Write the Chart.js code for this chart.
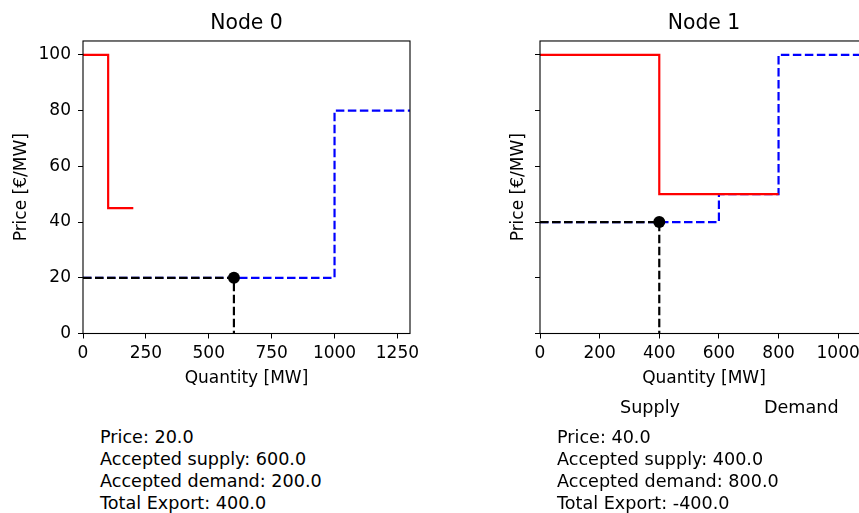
<!DOCTYPE html>
<html>
<head>
<meta charset="utf-8">
<script src="https://cdn.jsdelivr.net/npm/chart.js@4"></script>
<style>
html, body { margin:0; padding:0; width:859px; height:513px; overflow:hidden; background:#fff; }
body { position:relative; font-family:"DejaVu Sans", sans-serif; color:#000; }
canvas { position:absolute; top:0; }
#chart0 { left:0; }
#chart1 { left:480px; }
.note { position:absolute; font-size:17.6px; line-height:22px; white-space:pre; }
</style>
</head>
<body>
<canvas id="chart0" width="430" height="400"></canvas>
<canvas id="chart1" width="408" height="400"></canvas>
<div class="note" id="leg0" style="left:620px; top:396px;"></div>
<div class="note" id="leg1" style="left:764px; top:396px;"></div>
<div class="note" id="info0" style="left:100px; top:426px;"></div>
<div class="note" id="info1" style="left:557px; top:426px;"></div>
<script>
// node titles and tick labels
const nodeNames = ['Node 0', 'Node 1'];
const legendLabels = ['Supply', 'Demand'];
const yTicks = [0, 20, 40, 60, 80, 100];
const xTicks0 = [0, 250, 500, 750, 1000, 1250];
const xTicks1 = [0, 200, 400, 600, 800, 1000];

// node 0 curves (step-post)
const supplyQ0 = [0, 1000, 1300];
const supplyP0 = [20, 80, 80];
const demandQ0 = [0, 100, 200];
const demandP0 = [100, 45, 45];

// node 1 curves
const supplyQ1 = [0, 600, 800, 1100];
const supplyP1 = [40, 50, 100, 100];
const demandQ1 = [0, 400, 800];
const demandP1 = [100, 50, 50];

// market results per node
const prices = [20, 40];
const acceptedSupply = [600, 400];
const acceptedDemand = [200, 800];
const totalExport = [400, -400];

Chart.defaults.font.family = 'DejaVu Sans';
Chart.defaults.color = '#000';

// matplotlib style frame around the plot area
const boxPlugin = {
  id: 'box',
  afterDatasetsDraw(chart) {
    const a = chart.chartArea, ctx = chart.ctx;
    ctx.save();
    ctx.strokeStyle = '#000';
    ctx.lineWidth = 1.1;
    ctx.strokeRect(a.left, a.top, a.right - a.left, a.bottom - a.top);
    ctx.restore();
  }
};

function pts(xs, ys) {
  return xs.map((x, i) => ({x: x, y: ys[i]}));
}

function draw_chart(selector, i, supply, demand, xMax, xTicks, showYLabels, padLeft, yWidth) {
  const q = acceptedSupply[i], p = prices[i];
  new Chart(document.getElementById(selector), {
    type: 'line',
    data: {
      datasets: [
        {data: [{x: q, y: p}], showLine: false, pointRadius: 6, pointBackgroundColor: '#000', pointBorderWidth: 0},
        {data: [{x: 0, y: p}, {x: q, y: p}, {x: q, y: 0}], borderColor: '#000', borderWidth: 2.2, borderDash: [8.5, 3.5], pointRadius: 0},
        {data: demand, borderColor: '#ff0000', borderWidth: 2.2, stepped: 'before', pointRadius: 0},
        {data: supply, borderColor: '#0000ff', borderWidth: 2.2, borderDash: [8.5, 3.5], stepped: 'before', pointRadius: 0}
      ]
    },
    options: {
      responsive: false,
      animation: false,
      layout: {padding: {left: padLeft, top: 0.5, right: 20, bottom: 11.3}},
      plugins: {
        legend: {display: false},
        tooltip: {enabled: false},
        title: {
          display: true, text: nodeNames[i], fullSize: false, color: '#000',
          font: {size: 20.4, weight: 'normal'}, padding: {top: 11.3, bottom: 4.7}
        }
      },
      scales: {
        x: {
          type: 'linear', min: 0, max: xMax,
          afterBuildTicks: s => { s.ticks = xTicks.map(v => ({value: v})); },
          afterFit: s => { s.height = 55.2; s.paddingLeft = 0; s.paddingRight = 0; },
          border: {display: false},
          grid: {drawOnChartArea: false, drawTicks: true, tickLength: 5, color: '#000', lineWidth: 1},
          ticks: {font: {size: 17}, padding: 5, maxRotation: 0, autoSkip: false, color: '#000', callback: v => String(v)},
          title: {display: true, text: 'Quantity [MW]', font: {size: 17}, padding: 0, color: '#000'}
        },
        y: {
          type: 'linear', min: 0, max: 105,
          afterBuildTicks: s => { s.ticks = yTicks.map(v => ({value: v})); },
          afterFit: s => { s.width = yWidth; s.paddingTop = 0; s.paddingBottom = 0; },
          border: {display: false},
          grid: {drawOnChartArea: false, drawTicks: true, tickLength: 5, color: '#000', lineWidth: 1},
          ticks: {font: {size: 17}, padding: 7, color: '#000', callback: v => showYLabels ? String(v) : ''},
          title: {display: true, text: 'Price [€/MW]', font: {size: 17}, padding: 0, color: '#000'}
        }
      }
    },
    plugins: [boxPlugin]
  });
}

draw_chart('chart0', 0, pts(supplyQ0, supplyP0), pts(demandQ0, demandP0), 1300, xTicks0, true, 11.8, 71.2);
draw_chart('chart1', 1, pts(supplyQ1, supplyP1), pts(demandQ1, demandP1), 1100, xTicks1, false, 28.8, 31.2);

document.getElementById('leg0').textContent = legendLabels[0];
document.getElementById('leg1').textContent = legendLabels[1];
for (let i = 0; i < 2; i++) {
  document.getElementById('info' + i).textContent =
    'Price: ' + prices[i].toFixed(1) + '\n' +
    'Accepted supply: ' + acceptedSupply[i].toFixed(1) + '\n' +
    'Accepted demand: ' + acceptedDemand[i].toFixed(1) + '\n' +
    'Total Export: ' + totalExport[i].toFixed(1);
}
</script>
</body>
</html>
